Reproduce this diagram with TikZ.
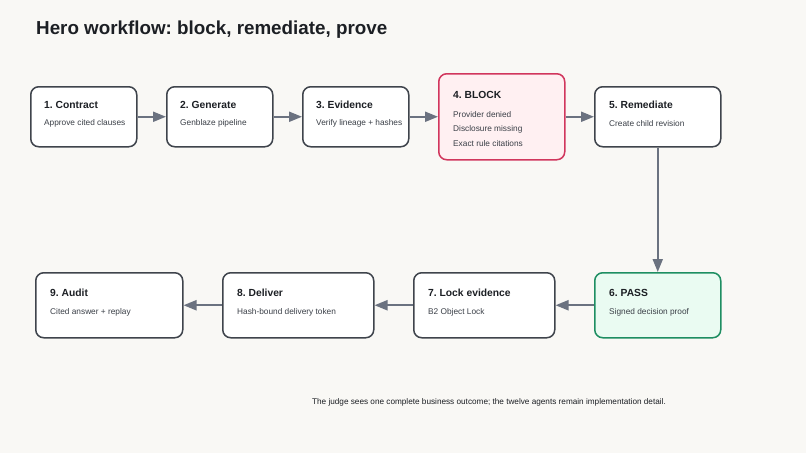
\documentclass[tikz,border=0pt]{standalone}
\usepackage{fontspec}
\setmainfont{Liberation Sans}
\usetikzlibrary{arrows.meta,positioning}
\definecolor{paper}{HTML}{F9F8F5}
\definecolor{edge}{HTML}{3F444C}
\definecolor{arr}{HTML}{6B7280}
\definecolor{ink}{HTML}{1C1F24}
\definecolor{inksub}{HTML}{3A3F47}
\definecolor{blockfill}{HTML}{FFF0F2}
\definecolor{blockedge}{HTML}{D1365D}
\definecolor{passfill}{HTML}{EAFBF2}
\definecolor{passedge}{HTML}{1E8E62}
\frenchspacing

\begin{document}
\begin{tikzpicture}[x=1pt,y=-1pt,
  box/.style={draw=edge,fill=white,line width=1.5pt,rounded corners=8pt,anchor=north west,inner sep=0pt},
  ttl/.style={anchor=west,font=\fontsize{10.3}{12}\selectfont\bfseries,text=ink,inner sep=0pt},
  sub/.style={anchor=west,font=\fontsize{8.3}{10}\selectfont,text=inksub,inner sep=0pt},
  flow/.style={draw=arr,line width=2pt,-{Triangle[length=13pt,width=10pt]}}]

  % page
  \fill[paper] (0,0) rectangle (806,453);
  \useasboundingbox (0,0) rectangle (806,453);

  \node[anchor=west,font=\fontsize{18.8}{22}\selectfont\bfseries,text=ink,inner sep=0pt] (title) at (36,29.5) {Hero workflow: block, remediate, prove};

  % top row
  \node[box,minimum width=106pt,minimum height=60pt] (contract) at (30,86) {};
  \node[box,minimum width=106pt,minimum height=60pt] (generate) at (166,86) {};
  \node[box,minimum width=106pt,minimum height=60pt] (evidence) at (302,86) {};
  \node[box,draw=blockedge,fill=blockfill,minimum width=126pt,minimum height=86pt] (block) at (438,73) {};
  \node[box,minimum width=126pt,minimum height=60pt] (remediate) at (594,86) {};

  \node[ttl] at ([xshift=14pt,yshift=-18.5pt]contract.north west) {1. Contract};
  \node[sub] at ([xshift=14pt,yshift=-37.5pt]contract.north west) {Approve cited clauses};
  \node[ttl] at ([xshift=14pt,yshift=-18.5pt]generate.north west) {2. Generate};
  \node[sub] at ([xshift=14pt,yshift=-37.5pt]generate.north west) {Genblaze pipeline};
  \node[ttl] at ([xshift=14pt,yshift=-18.5pt]evidence.north west) {3. Evidence};
  \node[sub] at ([xshift=14pt,yshift=-37.5pt]evidence.north west) {Verify lineage + hashes};
  \node[ttl] at ([xshift=15pt,yshift=-21.5pt]block.north west) {4. BLOCK};
  \node[sub] at ([xshift=15pt,yshift=-41.5pt]block.north west) {Provider denied};
  \node[sub] at ([xshift=15pt,yshift=-56.5pt]block.north west) {Disclosure missing};
  \node[sub] at ([xshift=15pt,yshift=-71pt]block.north west) {Exact rule citations};
  \node[ttl] at ([xshift=15pt,yshift=-18.5pt]remediate.north west) {5. Remediate};
  \node[sub] at ([xshift=15pt,yshift=-37.5pt]remediate.north west) {Create child revision};

  % bottom row
  \node[box,draw=passedge,fill=passfill,minimum width=126pt,minimum height=65pt] (pass) at (594,272) {};
  \node[box,minimum width=141pt,minimum height=65pt] (lock) at (413,272) {};
  \node[box,minimum width=151pt,minimum height=65pt] (deliver) at (222,272) {};
  \node[box,minimum width=147pt,minimum height=65pt] (audit) at (35,272) {};

  \node[ttl] at ([xshift=15pt,yshift=-21pt]pass.north west) {6. PASS};
  \node[sub] at ([xshift=15pt,yshift=-40pt]pass.north west) {Signed decision proof};
  \node[ttl] at ([xshift=15pt,yshift=-21pt]lock.north west) {7. Lock evidence};
  \node[sub] at ([xshift=15pt,yshift=-40pt]lock.north west) {B2 Object Lock};
  \node[ttl] at ([xshift=15pt,yshift=-21pt]deliver.north west) {8. Deliver};
  \node[sub] at ([xshift=15pt,yshift=-40pt]deliver.north west) {Hash-bound delivery token};
  \node[ttl] at ([xshift=15pt,yshift=-21pt]audit.north west) {9. Audit};
  \node[sub] at ([xshift=15pt,yshift=-40pt]audit.north west) {Cited answer + replay};

  % connectors
  \draw[flow] (contract) -- (generate);
  \draw[flow] (generate) -- (evidence);
  \draw[flow] (evidence) -- (block);
  \draw[flow] (block) -- (remediate);
  \draw[flow] (remediate) -- (pass);
  \draw[flow] (pass) -- (lock);
  \draw[flow] (lock) -- (deliver);
  \draw[flow] (deliver) -- (audit);

  \node[font=\fontsize{8.2}{10}\selectfont,text=ink,inner sep=0pt] (note) at (489,402) {The judge sees one complete business outcome; the twelve agents remain implementation detail.};
\end{tikzpicture}
\end{document}
